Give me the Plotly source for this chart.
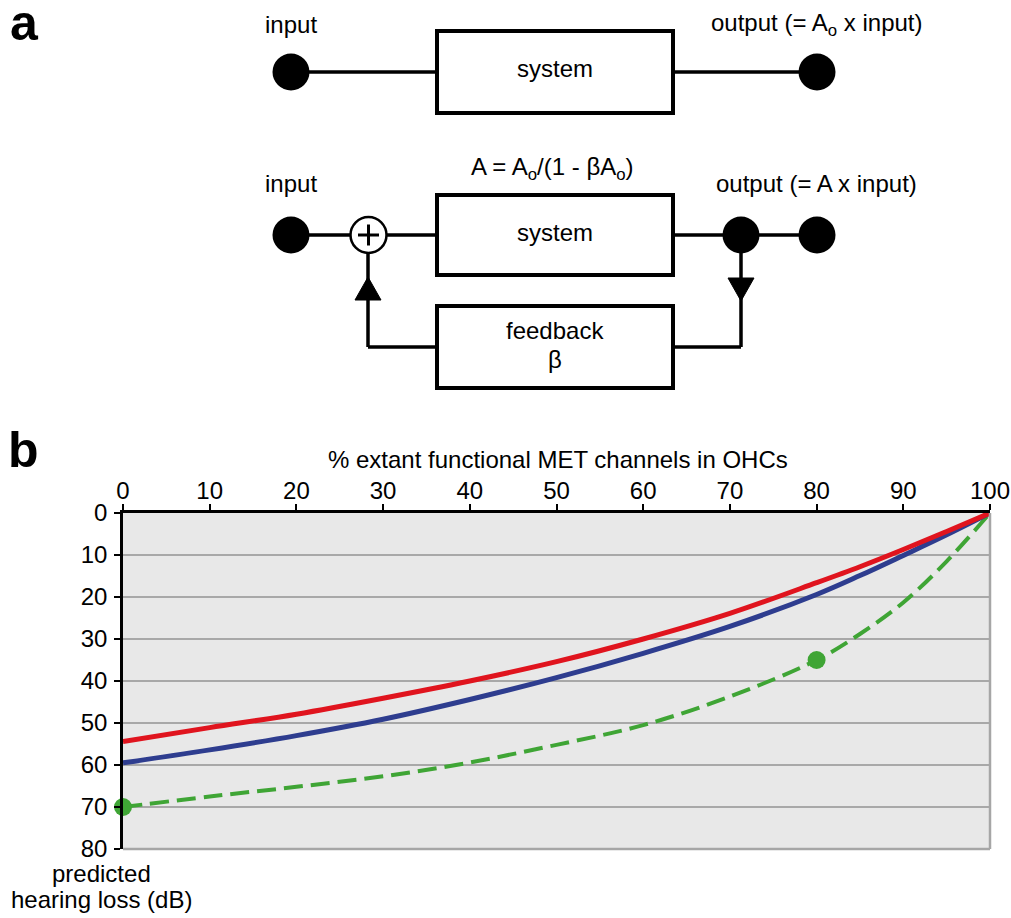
import plotly.graph_objects as go

# ---------------- data (panel b) ----------------
met_pct = [0, 10, 20, 30, 40, 50, 60, 70, 80, 85, 90, 95, 100]
red_loss = [54.4, 51.1, 47.9, 44.1, 40.0, 35.4, 30.0, 23.9, 16.6, 12.8, 8.7, 4.4, 0.0]
blue_loss = [59.5, 56.4, 53.0, 49.1, 44.4, 39.2, 33.4, 27.0, 19.4, 14.9, 10.1, 5.2, 0.0]
green_loss = [70.0, 67.5, 65.2, 62.7, 59.4, 55.2, 50.5, 43.7, 35.0, 28.8, 21.3, 11.5, 0.0]
green_pts_x = [0, 80]
green_pts_y = [70, 35]
x_ticks = [0, 10, 20, 30, 40, 50, 60, 70, 80, 90, 100]
y_ticks = [0, 10, 20, 30, 40, 50, 60, 70, 80]

W, H = 1011, 918
FONT = "Liberation Sans, Arial, sans-serif"
FS = 24


def px(x):
    return x / W


def py(y):
    return 1 - y / H


fig = go.Figure()

fig.add_trace(go.Scatter(x=met_pct, y=green_loss, mode="lines", line=dict(color="#3fa535", width=4, dash="19px,8px", shape="spline"), hoverinfo="skip"))
fig.add_trace(go.Scatter(x=green_pts_x, y=green_pts_y, mode="markers", marker=dict(color="#3fa535", size=18), cliponaxis=False, hoverinfo="skip"))
fig.add_trace(go.Scatter(x=met_pct, y=blue_loss, mode="lines", line=dict(color="#2e3d8f", width=5, shape="spline"), hoverinfo="skip"))
fig.add_trace(go.Scatter(x=met_pct, y=red_loss, mode="lines", line=dict(color="#e0141e", width=5, shape="spline"), hoverinfo="skip"))

shapes = []
annotations = []

LW = 3.5
BW = 4


def line(x0, y0, x1, y1, w=LW):
    shapes.append(dict(type="line", xref="paper", yref="paper", x0=px(x0), y0=py(y0), x1=px(x1), y1=py(y1), line=dict(color="black", width=w)))


def rect(x0, y0, x1, y1):
    shapes.append(dict(type="rect", xref="paper", yref="paper", x0=px(x0), y0=py(y0), x1=px(x1), y1=py(y1), line=dict(color="black", width=BW), fillcolor="white"))


def dot(cx, cy, r=18.5, fill="black", w=0):
    shapes.append(dict(type="circle", xref="paper", yref="paper", x0=px(cx - r), y0=py(cy + r), x1=px(cx + r), y1=py(cy - r), fillcolor=fill, line=dict(color="black", width=w)))


def tri(pts):
    path = "M " + " L ".join(f"{px(x)},{py(y)}" for x, y in pts) + " Z"
    shapes.append(dict(type="path", xref="paper", yref="paper", path=path, fillcolor="black", line=dict(color="black", width=1)))


def text(cx, cy, s, size=FS, bold=False, xanchor="center"):
    if bold:
        s = f"<b>{s}</b>"
    annotations.append(dict(xref="paper", yref="paper", x=px(cx), y=py(cy), text=s, showarrow=False, xanchor=xanchor, yanchor="middle", font=dict(family=FONT, size=size, color="black")))


# ---------------- panel a: top row ----------------
line(305, 72, 437, 72)
line(673, 72, 805, 72)
rect(437, 31, 673, 113)
dot(291, 72)
dot(817, 72)
text(555, 68.5, "system")
text(291, 24.7, "input")
text(816, 24.7, "output (= A<sub>o</sub> x input)")

# ---------------- panel a: bottom row ----------------
line(305, 235, 350, 235)
line(387, 235, 437, 235)
line(673, 235, 805, 235)
rect(437, 195, 673, 275)
rect(437, 306, 673, 388)
line(741, 250, 741, 347)
line(741, 347, 673, 347)
tri([(728, 278), (754, 278), (741, 301)])
line(437, 347, 368, 347)
line(368, 347, 368, 252)
tri([(355, 300), (381, 300), (368, 277)])
dot(291, 235)
dot(741, 235)
dot(817, 235)
dot(368.5, 235, r=18, fill="white", w=2.5)
line(358, 235, 379, 235, w=3)
line(368.5, 224.5, 368.5, 245.5, w=3)
text(555, 232.5, "system")
text(555, 330, "feedback")
text(555, 359, "β")
text(291, 183.5, "input")
text(816, 183.5, "output (= A x input)")
text(552, 168.5, "A = A<sub>o</sub>/(1 - βA<sub>o</sub>)")

text(24.4, 23.5, "a", size=50, bold=True)
text(23.5, 450, "b", size=50, bold=True)

# ---------------- panel b labels ----------------
text(558, 459.5, "% extant functional MET channels in OHCs")
text(101, 873.5, "predicted")
text(101, 899.5, "hearing loss (dB)")

shapes.append(dict(type="line", xref="x domain", yref="y domain", x0=1, y0=0, x1=1, y1=1, line=dict(color="#a6a6a6", width=2.5)))
shapes.append(dict(type="line", xref="x domain", yref="y domain", x0=0, y0=0, x1=1, y1=0, line=dict(color="#a6a6a6", width=2.5)))

fig.update_layout(
    width=W, height=H,
    margin=dict(l=0, r=0, t=0, b=0, pad=0, autoexpand=False),
    paper_bgcolor="white",
    plot_bgcolor="#e8e8e8",
    showlegend=False,
    shapes=shapes,
    annotations=annotations,
    font=dict(family=FONT, size=FS, color="black"),
    xaxis=dict(
        domain=[px(123), px(990)], range=[0, 100], side="top", automargin=False,
        tickmode="array", tickvals=x_ticks, ticktext=[str(v) for v in x_ticks],
        showgrid=False, zeroline=False, showline=True, linecolor="black", linewidth=2.5,
        ticks="outside", ticklen=6, tickwidth=2, tickcolor="black",
        tickfont=dict(family=FONT, size=FS, color="black"), fixedrange=True,
        ticklabelstandoff=-4,
    ),
    yaxis=dict(
        domain=[py(849), py(513)], range=[80, 0], automargin=False,
        tickmode="array", tickvals=y_ticks, ticktext=[str(v) for v in y_ticks],
        showgrid=True, gridcolor="#a8a8a8", gridwidth=1.5, zeroline=False,
        showline=True, linecolor="black", linewidth=2.5,
        ticks="outside", ticklen=6, tickwidth=2, tickcolor="black",
        tickfont=dict(family=FONT, size=FS, color="black"), fixedrange=True,
        ticklabelstandoff=2,
    ),
)

fig.write_html(
    "out.html",
    config={"displayModeBar": False},
    post_script="document.body.style.margin='0';document.body.style.overflow='hidden';",
)
